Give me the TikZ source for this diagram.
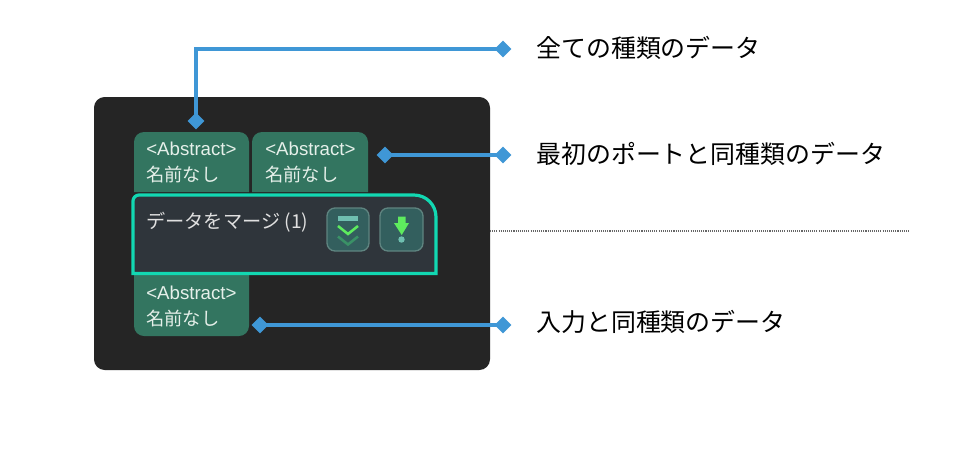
\documentclass[tikz,border=0pt]{standalone}
\usepackage{fontspec}
\setmainfont{Liberation Sans}
\newfontfamily\jpfont{Noto Sans CJK JP}
\usetikzlibrary{shapes.geometric}
\definecolor{panelc}{HTML}{252525}
\definecolor{portc}{HTML}{337560}
\definecolor{mainc}{HTML}{2F353B}
\definecolor{edgec}{HTML}{12D8B2}
\definecolor{btnc}{HTML}{335F5E}
\definecolor{btnedge}{HTML}{5F8480}
\definecolor{linec}{HTML}{3F97D6}
\definecolor{brightg}{HTML}{5EEB5E}
\definecolor{darkg}{HTML}{3A9166}
\definecolor{tealg}{HTML}{6FBFB0}
\definecolor{porttext}{HTML}{E6F0EA}
\tikzset{
  x=0.75pt,y=-0.75pt,
  marker/.style={diamond,fill=linec,inner sep=0pt,minimum width=12.6pt,minimum height=12.6pt},
  link/.style={draw=linec,line width=2.3pt},
  callout/.style={anchor=west,inner sep=0pt,font=\fontsize{18.7}{22}\selectfont\jpfont,text=black},
  portline/.style={anchor=west,inner sep=0pt,text=porttext,font=\fontsize{14}{17}\selectfont},
  portjp/.style={anchor=west,inner sep=0pt,text=porttext,font=\fontsize{13.7}{17}\selectfont\jpfont},
  btn/.style={draw=btnedge,fill=btnc,line width=1pt,rounded corners=6pt},
}
\begin{document}
\begin{tikzpicture}
\useasboundingbox (0,0) rectangle (959,455);
\fill[white] (0,0) rectangle (959,455);
\fill[panelc,rounded corners=8pt] (94,97) rectangle (490,370);
% ports
\fill[portc] (134,192) -- (134,142) .. controls (134,136.5) and (138.5,132) .. (144,132) -- (239,132) .. controls (244.5,132) and (249,136.5) .. (249,142) -- (249,192) -- cycle;
\fill[portc] (252,192) -- (252,142) .. controls (252,136.5) and (256.5,132) .. (262,132) -- (358,132) .. controls (363.5,132) and (368,136.5) .. (368,142) -- (368,192) -- cycle;
\fill[portc] (134,274) -- (134,326) .. controls (134,331.5) and (138.5,336) .. (144,336) -- (239,336) .. controls (244.5,336) and (249,331.5) .. (249,326) -- (249,274) -- cycle;
\node[portline] (p1a) at (146,149) {<Abstract>};
\node[portjp] (p1b) at (146,175) {名前なし};
\node[portline] (p2a) at (265,149) {<Abstract>};
\node[portjp] (p2b) at (265,175) {名前なし};
\node[portline] (p3a) at (146,293) {<Abstract>};
\node[portjp] (p3b) at (146,319) {名前なし};
% main node
\draw[draw=edgec,fill=mainc,line width=2.4pt]
  (133,273.5) -- (133,201) .. controls (133,197.7) and (135.7,195) .. (139,195) -- (414,195)
  .. controls (426.2,195) and (436,204.8) .. (436,217) -- (436,273.5) -- cycle;
\node[anchor=west,inner sep=0pt,text=white!88!black,font=\fontsize{14.4}{17}\selectfont\jpfont] (title) at (146,222) {データをマージ (1)};
% buttons
\draw[btn] (327,208) rectangle (369,251);
\fill[tealg] (338,216) rectangle (358,221);
\draw[darkg,line width=1.9pt] (338,236.5) -- (348,244.5) -- (358,236.5);
\draw[brightg,line width=1.9pt] (338,226) -- (348,234) -- (358,226);
\draw[btn] (380,208) rectangle (423,251);
\fill[brightg] (398,216.5) -- (405.5,216.5) -- (405.5,223) -- (409,223) -- (401.7,235) -- (394,223) -- (398,223) -- cycle;
\fill[tealg] (401.5,239.5) circle (3.2);
% dotted rule
\coordinate (ruleA) at (490,231);
\coordinate (ruleB) at (909,231);
\draw[black!60,line width=0.8pt,dash pattern=on 0.8pt off 0.8pt] (ruleA) -- (ruleB);
% markers
\node[marker] (m1) at (196,121) {};
\node[marker] (e1) at (503,49) {};
\node[marker] (m2) at (385,155) {};
\node[marker] (e2) at (503,155) {};
\node[marker] (m3) at (260,325) {};
\node[marker] (e3) at (503,325) {};
\draw[link] (m1.center) |- (e1.center);
\draw[link] (m2.center) -- (e2.center);
\draw[link] (m3.center) -- (e3.center);
% callouts
\node[callout] (t1) at (536,48) {全ての種類のデータ};
\node[callout] (t2) at (536,154) {最初のポートと同種類のデータ};
\node[callout] (t3) at (536,322) {入力と同種類のデータ};
\end{tikzpicture}
\end{document}
